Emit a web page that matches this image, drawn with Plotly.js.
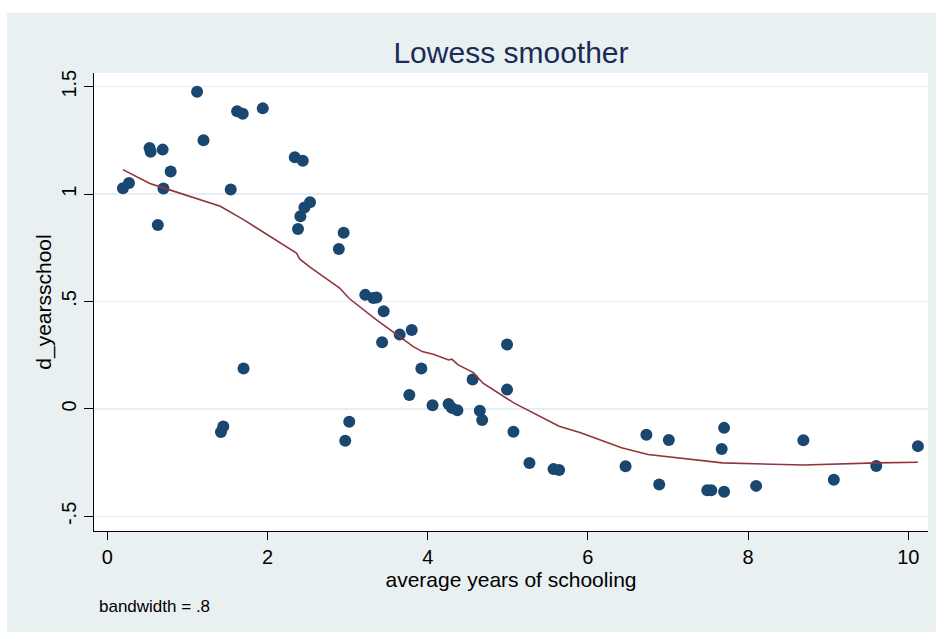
<!DOCTYPE html>
<html>
<head>
<meta charset="utf-8">
<script src="https://cdn.plot.ly/plotly-3.0.1.min.js"></script>
<style>
  html, body { margin: 0; padding: 0; background: #ffffff; width: 936px; height: 632px; overflow: hidden; }
  #chart { position: absolute; left: 7px; top: 13px; width: 929px; height: 619px; }
</style>
</head>
<body>
<div id="chart"></div>
<script>
// Scatter data: average years of schooling (x) vs d_yearsschool (y)
const schoolX = [
  0.194, 0.27, 0.527, 0.54, 0.63, 0.69, 0.70, 0.79, 1.12, 1.20,
  1.418, 1.447, 1.54, 1.62, 1.69, 1.70, 1.94, 2.34, 2.38, 2.41,
  2.44, 2.46, 2.53, 2.89, 2.95, 2.97, 3.02, 3.22, 3.32, 3.36,
  3.43, 3.45, 3.65, 3.77, 3.80, 3.92, 4.06, 4.26, 4.30, 4.37,
  4.56, 4.65, 4.68, 4.99, 4.99, 5.07, 5.27, 5.57, 5.64, 6.47,
  6.73, 6.89, 7.01, 7.49, 7.54, 7.67, 7.70, 7.70, 8.10, 8.69,
  9.07, 9.60, 10.12
];
const schoolY = [
  1.027, 1.052, 1.215, 1.197, 0.856, 1.207, 1.026, 1.105, 1.476, 1.251,
  -0.107, -0.082, 1.021, 1.386, 1.374, 0.188, 1.399, 1.172, 0.838, 0.897,
  1.155, 0.938, 0.962, 0.745, 0.82, -0.148, -0.059, 0.531, 0.516, 0.519,
  0.311, 0.455, 0.346, 0.065, 0.368, 0.188, 0.017, 0.023, 0.005, -0.006,
  0.137, -0.008, -0.051, 0.30, 0.09, -0.106, -0.252, -0.28, -0.284, -0.267,
  -0.120, -0.352, -0.145, -0.378, -0.378, -0.186, -0.385, -0.088, -0.358, -0.146,
  -0.33, -0.265, -0.173
];

// Lowess smoothed line
const lowessX = [
  0.194, 0.53, 0.70, 1.41, 1.70, 2.36, 2.40, 2.53, 2.90, 3.02,
  3.36, 3.53, 3.82, 3.93, 4.07, 4.26, 4.30, 4.38, 4.57, 4.69,
  5.00, 5.08, 5.64, 5.90, 6.42, 6.75, 7.68, 8.69, 9.61, 10.12
];
const lowessY = [
  1.114, 1.049, 1.029, 0.943, 0.881, 0.726, 0.698, 0.66, 0.563, 0.514,
  0.415, 0.368, 0.29, 0.267, 0.255, 0.228, 0.232, 0.205, 0.169, 0.12,
  0.045, 0.027, -0.08, -0.11, -0.181, -0.212, -0.251, -0.261, -0.251, -0.248
];

const xTickVals = [0, 2, 4, 6, 8, 10];
const xTickText = ["0", "2", "4", "6", "8", "10"];
const yTickVals = [-0.5, 0, 0.5, 1, 1.5];
const yTickText = ["-.5", "0", ".5", "1", "1.5"];

const FONT = "Liberation Sans, Arial, Helvetica, sans-serif";

const traces = [
  {
    x: schoolX, y: schoolY, type: "scatter", mode: "markers",
    marker: { color: "#1a476f", size: 12, line: { width: 0 } },
    hoverinfo: "x+y", showlegend: false
  },
  {
    x: lowessX, y: lowessY, type: "scatter", mode: "lines",
    line: { color: "#90353b", width: 1.6 },
    showlegend: false
  }
];

const layout = {
  width: 929, height: 619,
  paper_bgcolor: "#e9f0f2",
  plot_bgcolor: "#ffffff",
  margin: { l: 87, r: 8, t: 60, b: 101 },
  font: { family: FONT, color: "#000000" },
  title: {
    text: "Lowess smoother",
    font: { family: FONT, size: 30, color: "#1c2b55" },
    x: 0.5, xref: "paper", xanchor: "center",
    y: 1 - 39 / 619, yref: "container", yanchor: "middle"
  },
  xaxis: {
    range: [-0.167, 10.246],
    tickmode: "array", tickvals: xTickVals, ticktext: xTickText,
    ticks: "outside", ticklen: 8, tickwidth: 1, tickcolor: "#000",
    showline: true, linecolor: "#000", linewidth: 1,
    showgrid: false, zeroline: false,
    tickfont: { size: 20, family: FONT },
    title: { text: "average years of schooling", font: { size: 21, family: FONT }, standoff: 3 }
  },
  yaxis: {
    range: [-0.568, 1.5636],
    tickmode: "array", tickvals: yTickVals, ticktext: yTickText,
    tickangle: -90,
    ticks: "outside", ticklen: 9, tickwidth: 1, tickcolor: "#000",
    showline: true, linecolor: "#000", linewidth: 1,
    showgrid: true, gridcolor: "#e6eef1", gridwidth: 1.5,
    zeroline: false,
    tickfont: { size: 20, family: FONT },
    title: { text: "d_yearsschool", font: { size: 21, family: FONT }, standoff: 0 }
  },
  annotations: [
    {
      text: "bandwidth = .8", showarrow: false,
      xref: "paper", yref: "paper", x: 0.003, y: -0.164,
      xanchor: "left", yanchor: "middle",
      font: { family: FONT, size: 17, color: "#000" }
    }
  ]
};

Plotly.newPlot("chart", traces, layout, { displayModeBar: false, staticPlot: true });
</script>
</body>
</html>
